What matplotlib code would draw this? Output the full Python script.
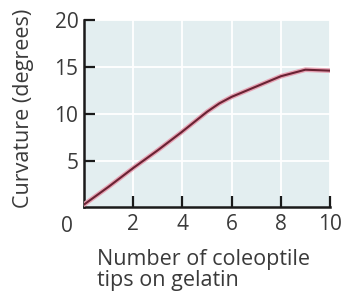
import matplotlib
matplotlib.use("Agg")
import matplotlib.pyplot as plt

# coleoptile tips vs curvature
tips = [0, 1, 2, 3, 4, 5, 5.5, 6, 7, 8, 9, 10]
curvature = [0.3, 2.2, 4.2, 6.1, 8.1, 10.2, 11.1, 11.8, 12.9, 14.0, 14.7, 14.6]
x_ticks = [2, 4, 6, 8, 10]
y_ticks = [5, 10, 15, 20]

plt.rcParams['font.family'] = ['Open Sans', 'DejaVu Sans']
text_color = '#3a3a3a'

fig = plt.figure(figsize=(3.47, 2.95), dpi=100)
ax = fig.add_axes([0.242, 0.297, 0.709, 0.635])
ax.set_facecolor('#e3eef0')

ax.set_xlim(0, 10)
ax.set_ylim(0, 20)
ax.set_xticks(x_ticks)
ax.set_yticks(y_ticks)
ax.grid(True, color='white', linewidth=1.3)
ax.set_axisbelow(True)

# pinkish halo under a dark maroon line
ax.plot(tips, curvature, color='#e6a3b4', linewidth=3.4, solid_capstyle='round', zorder=3)
ax.plot(tips, curvature, color='#6a2233', linewidth=1.5, solid_capstyle='round', zorder=4)

for side in ['top', 'right']:
    ax.spines[side].set_visible(False)
for side in ['left', 'bottom']:
    ax.spines[side].set_linewidth(1.8)
    ax.spines[side].set_color('#1a1a1a')

ax.tick_params(direction='in', length=8, width=1.6, colors='#1a1a1a',
               labelsize=15, labelcolor=text_color)
ax.tick_params(axis='x', pad=5)
ax.tick_params(axis='y', pad=4)
ax.text(-0.07, -0.045, '0', transform=ax.transAxes, fontsize=15, color=text_color,
        ha='center', va='top')

ax.set_ylabel('Curvature (degrees)', fontsize=15.5, color=text_color)
ax.yaxis.set_label_coords(-0.205, 0.53)
fig.text(0.28, 0.012, 'Number of coleoptile\ntips on gelatin', fontsize=15.5,
         color=text_color, ha='left', va='bottom', linespacing=1.05)

fig.savefig('out.png', dpi=100, facecolor='white')
